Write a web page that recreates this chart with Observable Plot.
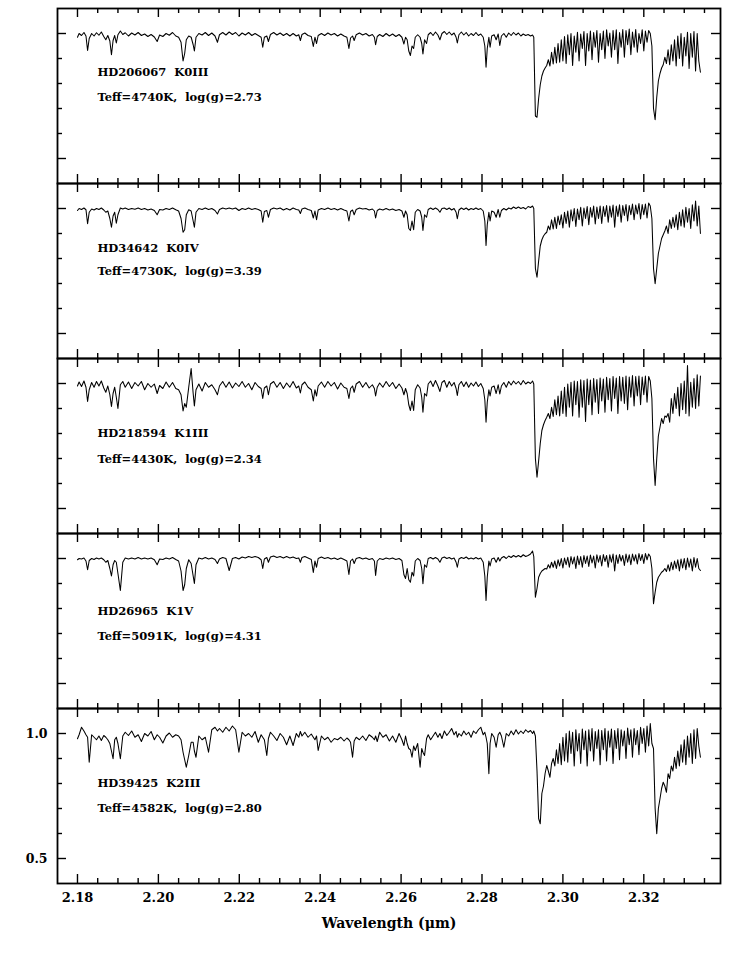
<!DOCTYPE html>
<html><head><meta charset="utf-8">
<script src="https://cdn.jsdelivr.net/npm/d3@7"></script>
<script src="https://cdn.jsdelivr.net/npm/@observablehq/plot@0.6"></script>
<style>body{margin:0;background:#fff}</style>
</head><body><div id="chart"></div>
<script>
// ---- stars ----
const starIds = ["HD206067","HD34642","HD218594","HD26965","HD39425"];
const starTypes = ["K0III","K0IV","K1III","K1V","K2III"];
const starTeff = ["4740","4730","4430","5091","4582"];
const starLogg = ["2.73","3.39","2.34","4.31","2.80"];

// ---- shared sampling of the atomic-line region (µm) ----
const blueWave = [
2.1800,2.1804,2.1810,2.1816,2.1821,2.1825,2.1829,2.1835,2.1841,2.1847,
2.1853,2.1859,2.1865,2.1870,2.1875,2.1880,2.1884,2.1888,2.1892,2.1896,
2.1900,2.1906,2.1912,2.1918,2.1926,2.1934,2.1942,2.1950,2.1958,2.1966,
2.1974,2.1982,2.1990,2.1997,2.2003,2.2011,2.2019,2.2027,2.2035,2.2043,
2.2050,2.2056,2.2061,2.2065,2.2069,2.2075,2.2081,2.2086,2.2089,2.2093,
2.2100,2.2108,2.2116,2.2124,2.2132,2.2140,2.2146,2.2151,2.2159,2.2167,
2.2175,2.2183,2.2191,2.2199,2.2207,2.2215,2.2223,2.2231,2.2239,2.2247,
2.2254,2.2258,2.2262,2.2268,2.2272,2.2277,2.2285,2.2293,2.2301,2.2309,
2.2317,2.2325,2.2333,2.2341,2.2347,2.2351,2.2355,2.2362,2.2370,2.2378,
2.2383,2.2387,2.2391,2.2395,2.2403,2.2411,2.2419,2.2427,2.2435,2.2443,
2.2451,2.2459,2.2466,2.2471,2.2475,2.2480,2.2484,2.2489,2.2497,2.2505,
2.2513,2.2521,2.2529,2.2534,2.2537,2.2541,2.2547,2.2555,2.2563,2.2571,
2.2579,2.2587,2.2595,2.2602,2.2607,2.2611,2.2615,2.2619,2.2623,2.2627,
2.2631,2.2635,2.2641,2.2647,2.2651,2.2654,2.2658,2.2663,2.2667,2.2673,
2.2679,2.2685,2.2691,2.2696,2.2701,2.2707,2.2713,2.2719,2.2725,2.2731,
2.2736,2.2739,2.2743,2.2749,2.2755,2.2761,2.2767,2.2773,2.2779,2.2785,
2.2791,2.2797,2.2803,2.2807,2.2810,2.2813,2.2817,2.2820,2.2824,2.2830,
2.2835,2.2840,2.2844,2.2848,2.2854,2.2860,2.2866,2.2872,2.2878,2.2884,
2.2890,2.2896,2.2902,2.2908,2.2914,2.2920,2.2925,2.2928];

const blueFlux_HD206067 = [
0.985,1.000,0.992,1.004,0.990,0.932,0.980,1.000,0.990,1.003,
0.993,1.006,0.988,0.975,0.992,0.970,0.915,0.972,0.992,0.962,
0.995,1.010,0.996,1.003,0.990,1.002,0.994,1.004,0.992,0.998,
0.988,0.996,0.986,0.968,0.994,0.988,1.000,0.993,1.004,0.990,
0.985,0.965,0.890,0.920,0.975,0.990,0.985,0.955,0.930,0.985,
1.000,0.994,1.004,0.992,1.002,0.990,0.965,0.995,1.004,0.994,
1.006,0.996,1.004,0.990,1.002,0.994,1.004,0.992,1.000,0.992,
0.985,0.945,0.985,0.990,0.968,0.996,1.004,0.994,1.002,0.992,
1.000,0.990,1.000,0.990,0.995,0.972,0.996,1.002,0.992,0.988,
0.948,0.985,0.960,0.992,1.000,0.992,1.002,0.994,1.000,0.990,
0.998,0.990,0.985,0.940,0.982,0.990,0.972,0.995,1.002,0.994,
1.000,0.990,0.996,0.985,0.955,0.988,0.996,0.988,1.000,0.990,
0.998,0.988,0.996,0.985,0.958,0.985,0.975,0.930,0.912,0.950,
0.940,0.985,0.995,0.985,0.960,0.918,0.975,0.960,0.995,1.004,
0.992,1.006,0.994,0.975,1.000,1.008,0.996,1.006,0.994,1.002,
0.985,0.962,0.995,1.006,0.994,1.004,0.990,1.000,0.992,1.004,
0.992,0.998,0.985,0.950,0.865,0.940,0.985,0.945,0.990,0.995,
0.975,0.998,0.952,0.990,1.000,0.985,1.002,0.992,1.004,0.994,
1.002,0.990,0.998,0.992,0.996,0.990,0.994,0.985];

const blueFlux_HD34642 = [
0.992,1.000,0.996,1.002,0.995,0.939,0.985,0.998,0.994,1.000,
0.996,1.002,0.994,0.985,0.990,0.960,0.925,0.970,0.985,0.941,
0.975,1.002,0.998,1.002,0.996,1.000,0.997,1.002,0.996,1.000,
0.994,0.998,0.992,0.975,0.996,0.994,1.000,0.996,1.002,0.995,
0.990,0.960,0.905,0.915,0.975,0.995,0.990,0.950,0.925,0.985,
1.000,0.996,1.002,0.996,1.000,0.992,0.978,0.996,1.002,0.998,
1.002,0.998,1.002,0.992,1.000,0.996,1.002,0.996,1.000,0.996,
0.990,0.945,0.988,0.992,0.965,0.996,1.002,0.998,1.002,0.994,
1.000,0.994,1.002,0.996,0.994,0.980,0.998,1.002,0.996,0.992,
0.962,0.990,0.955,0.994,1.000,0.996,1.002,0.996,1.000,0.994,
1.000,0.994,0.990,0.950,0.988,0.994,0.975,0.996,1.002,0.998,
1.000,0.994,0.998,0.990,0.962,0.992,0.998,0.994,1.000,0.994,
0.998,0.992,0.996,0.990,0.965,0.990,0.975,0.920,0.912,0.950,
0.915,0.985,0.996,0.990,0.965,0.912,0.975,0.965,0.996,1.002,
0.996,1.002,0.996,0.985,1.000,1.002,0.996,1.002,0.994,1.000,
0.985,0.959,0.994,1.002,0.996,1.002,0.994,1.000,0.996,1.002,
0.996,1.000,0.990,0.950,0.852,0.935,0.985,0.950,0.990,0.985,
0.965,0.996,0.965,0.992,1.000,0.994,1.002,0.998,1.006,1.000,
1.006,1.000,1.004,0.998,1.008,1.004,1.010,1.000];

const blueFlux_HD218594 = [
0.990,1.006,0.988,1.010,0.985,0.928,0.975,1.004,0.985,1.008,
0.990,1.010,0.982,0.965,0.990,0.955,0.908,0.960,0.985,0.945,
0.900,0.995,1.008,0.985,1.006,0.980,1.004,0.990,1.008,0.975,
1.000,0.985,0.998,0.960,0.992,0.980,1.006,0.985,1.004,0.980,
0.975,0.955,0.890,0.920,0.905,0.985,1.060,0.960,0.910,0.975,
0.998,0.970,1.004,0.985,0.995,0.975,0.955,0.990,1.008,0.985,
1.006,0.982,1.002,0.988,1.008,0.985,1.000,0.975,1.004,0.988,
0.980,0.940,0.982,0.990,0.955,0.998,1.008,0.985,1.004,0.980,
1.002,0.985,1.008,0.982,0.990,0.962,0.995,1.006,0.985,0.975,
0.930,0.975,0.950,0.990,1.006,0.985,1.008,0.990,1.004,0.978,
1.002,0.985,0.980,0.940,0.980,0.990,0.965,0.998,1.008,0.985,
1.004,0.982,0.995,0.980,0.950,0.985,1.002,0.985,1.008,0.988,
1.004,0.980,0.998,0.982,0.955,0.980,0.960,0.915,0.892,0.930,
0.892,0.975,0.995,0.982,0.945,0.885,0.960,0.950,0.998,1.010,
0.988,1.012,0.990,0.968,1.004,1.012,0.985,1.008,0.990,1.004,
0.980,0.952,0.995,1.008,0.988,1.006,0.985,1.002,0.990,1.006,
0.988,1.000,0.980,0.935,0.845,0.925,0.975,0.950,0.985,0.990,
0.960,0.995,0.958,0.990,1.004,0.985,1.008,0.994,1.010,0.998,
1.008,0.995,1.012,0.998,1.006,1.000,1.010,0.998];

const blueFlux_HD26965 = [
0.995,1.000,0.998,1.002,0.990,0.955,0.992,1.000,0.996,1.002,
0.998,1.002,0.995,0.985,0.992,0.960,0.930,0.975,0.992,0.985,
0.940,0.872,0.985,1.002,0.998,1.002,0.998,1.004,0.998,1.002,
0.998,1.002,0.995,0.975,0.998,0.996,1.002,0.998,1.004,0.996,
0.990,0.950,0.872,0.895,0.960,0.995,0.980,0.930,0.900,0.975,
1.002,0.998,1.004,0.998,1.002,0.996,0.980,0.998,1.004,1.000,
0.952,1.000,1.004,0.998,1.006,1.002,1.008,1.004,1.008,1.004,
0.995,0.960,0.998,1.004,0.985,1.006,1.010,1.004,1.008,1.002,
1.008,1.002,1.006,1.000,1.002,0.985,1.004,1.008,1.002,0.996,
0.944,0.990,0.965,1.000,1.006,1.000,1.004,0.998,1.002,0.996,
1.002,0.996,0.990,0.936,0.990,0.998,0.980,1.000,1.004,0.998,
1.002,0.996,1.000,0.990,0.932,0.990,1.000,0.996,1.002,0.998,
1.002,0.996,1.000,0.992,0.935,0.920,0.960,0.915,0.905,0.945,
0.930,0.990,1.000,0.992,0.960,0.899,0.975,0.965,1.000,1.004,
0.998,1.004,0.998,0.985,1.002,1.006,1.000,1.004,0.998,1.002,
0.985,0.965,0.998,1.004,1.000,1.006,0.998,1.002,0.998,1.004,
0.998,1.002,0.985,0.930,0.832,0.925,0.990,0.970,0.998,1.002,
0.985,1.004,0.990,1.002,1.008,1.000,1.010,1.004,1.012,1.006,
1.012,1.006,1.015,1.008,1.012,1.018,1.030,1.008];

const blueFlux_HD39425 = [
0.979,0.995,1.025,1.010,0.995,0.985,0.885,0.995,0.985,0.975,
0.990,0.972,0.992,0.985,0.975,0.960,0.930,0.899,0.975,0.985,
0.960,0.899,0.990,1.005,0.992,1.010,0.985,0.995,0.968,1.000,
0.990,1.008,0.975,0.995,0.985,0.962,0.990,1.002,0.985,0.995,
0.990,0.975,0.925,0.895,0.865,0.912,0.965,0.965,0.930,0.905,
0.990,0.975,0.985,0.925,1.015,1.025,1.010,1.020,1.005,1.025,
1.010,1.030,1.015,0.925,1.005,0.990,1.000,0.985,1.008,0.965,
0.995,0.985,0.975,0.912,0.980,1.005,0.990,0.972,1.000,0.985,
0.955,0.990,0.952,1.000,0.985,1.008,0.990,1.005,0.985,0.998,
0.985,0.975,0.990,0.932,0.990,0.975,0.985,0.965,0.980,0.975,
0.985,0.970,0.982,0.975,0.965,0.905,0.970,0.985,0.975,0.990,
0.972,0.995,0.985,0.975,0.990,0.968,1.005,0.985,0.995,0.970,
0.990,0.965,1.000,0.975,0.952,0.990,0.960,0.940,0.935,0.905,
0.950,0.932,0.960,0.865,0.940,0.925,0.912,0.980,0.995,0.975,
0.990,1.005,0.985,1.000,0.980,1.010,0.992,1.005,1.020,0.995,
1.008,0.985,1.000,0.990,1.010,0.995,1.005,0.985,1.010,1.000,
1.015,1.025,0.995,1.005,0.985,0.960,0.839,0.960,1.000,0.985,
0.945,0.995,1.005,0.990,0.945,1.000,0.990,1.010,0.995,1.015,
0.998,1.010,1.000,1.015,1.005,1.012,1.000,1.010];

// ---- CO band region: regular sampling from 2.2932 µm in 0.0004 µm steps ----
const coStart = 2.2932;
const coStep = 0.0004;
const coFlux_HD206067 = [
0.670,0.665,0.740,0.795,0.830,0.850,0.862,0.872,0.895,0.870,
0.925,0.878,0.945,0.882,0.960,0.885,0.975,0.890,0.988,0.880,
0.995,0.915,1.000,0.872,0.990,0.925,1.005,0.890,0.998,0.940,
1.008,0.872,1.000,0.930,1.010,0.895,1.004,0.945,1.012,0.885,
1.000,0.935,1.010,0.900,1.015,0.950,1.002,0.905,1.012,0.935,
1.015,0.880,1.004,0.945,1.016,0.905,1.012,0.955,1.018,0.915,
1.006,0.945,1.016,0.925,1.000,0.960,1.015,0.930,1.010,0.965,
1.012,1.000,0.950,0.700,0.655,0.745,0.810,0.840,0.862,0.875,
0.905,0.880,0.935,0.875,0.955,0.890,0.975,0.870,0.990,0.900,
1.000,0.870,0.985,0.910,1.005,0.860,1.000,0.905,1.008,0.850,
1.000,0.890,0.845];
const coFlux_HD34642 = [
0.760,0.725,0.790,0.850,0.875,0.890,0.899,0.905,0.930,0.915,
0.955,0.918,0.965,0.920,0.970,0.935,0.975,0.922,0.985,0.940,
0.990,0.925,0.995,0.950,1.000,0.928,0.998,0.955,1.005,0.930,
1.002,0.960,1.008,0.935,1.004,0.965,1.010,0.938,1.006,0.960,
1.010,0.940,1.008,0.968,1.012,0.945,1.010,0.965,1.014,0.925,
1.010,0.968,1.015,0.945,1.012,0.972,1.016,0.950,1.012,0.975,
1.018,0.955,1.014,0.978,1.020,0.958,1.016,0.975,1.018,0.962,
1.022,1.010,0.960,0.760,0.699,0.760,0.820,0.850,0.880,0.895,
0.910,0.930,0.900,0.955,0.920,0.965,0.925,0.975,0.915,0.985,
0.930,0.995,0.925,1.005,0.945,1.000,0.920,1.015,0.950,1.030,
0.930,1.010,0.900];
const coFlux_HD218594 = [
0.700,0.625,0.690,0.760,0.812,0.835,0.852,0.865,0.880,0.860,
0.905,0.868,0.935,0.875,0.950,0.870,0.970,0.880,0.985,0.868,
0.998,0.905,1.005,0.870,1.010,0.915,1.008,0.865,1.015,0.905,
1.012,0.848,1.018,0.915,1.014,0.875,1.020,0.925,1.016,0.880,
1.022,0.930,1.018,0.885,1.025,0.935,1.020,0.890,1.028,0.940,
1.022,0.880,1.028,0.930,1.025,0.920,1.030,0.895,1.026,0.945,
1.032,0.910,1.028,0.950,1.030,0.915,1.026,0.955,1.030,0.925,
1.028,1.010,0.940,0.700,0.592,0.700,0.790,0.825,0.860,0.840,
0.870,0.865,0.880,0.845,0.940,0.880,0.960,0.900,0.985,0.870,
1.000,0.895,1.010,0.880,1.072,0.870,1.005,0.905,1.020,0.900,
1.035,0.910,1.030];
const coFlux_HD26965 = [
0.845,0.880,0.925,0.940,0.950,0.955,0.960,0.958,0.975,0.962,
0.985,0.965,0.990,0.960,0.995,0.970,1.000,0.962,1.002,0.975,
1.005,0.965,1.008,0.978,1.006,0.960,1.010,0.975,1.008,0.965,
1.012,0.980,1.010,0.968,1.014,0.982,1.010,0.962,1.015,0.985,
1.012,0.970,1.016,0.988,1.012,0.965,1.015,0.985,1.018,0.950,
1.014,0.980,1.016,0.990,1.012,0.972,1.018,0.985,1.015,0.975,
1.018,0.990,1.015,0.978,1.020,0.992,1.016,0.980,1.020,0.995,
1.018,1.008,0.960,0.819,0.865,0.905,0.925,0.935,0.945,0.950,
0.960,0.948,0.975,0.950,0.985,0.955,0.990,0.960,0.995,0.950,
0.998,0.962,1.000,0.955,1.002,0.965,0.998,0.950,1.004,0.965,
1.000,0.960,0.952];
const coFlux_HD39425 = [
0.990,0.850,0.660,0.639,0.760,0.790,0.840,0.872,0.850,0.825,
0.880,0.900,0.870,0.935,0.880,0.960,0.875,0.985,0.890,1.000,
0.885,1.010,0.920,1.005,0.870,1.015,0.930,1.000,0.880,1.018,
0.935,1.010,0.870,1.015,0.930,1.020,0.890,1.008,0.940,1.015,
0.875,1.012,0.935,1.020,0.890,1.010,0.945,1.018,0.880,1.012,
0.940,1.020,0.895,1.015,0.950,1.010,0.900,1.022,0.955,1.015,
0.905,1.020,0.955,1.012,0.915,1.025,0.960,1.020,0.925,1.030,
0.950,1.040,0.960,0.940,0.700,0.599,0.700,0.739,0.780,0.805,
0.790,0.765,0.839,0.820,0.870,0.850,0.905,0.860,0.930,0.870,
0.955,0.885,0.975,0.875,0.990,0.905,1.000,0.880,1.015,0.900,
1.020,0.950,0.905];

// ---- ticks / tick labels ----
const xMajorTicks = [2.18,2.20,2.22,2.24,2.26,2.28,2.30,2.32];
const xMinorTicks = [2.185,2.19,2.195,2.205,2.21,2.215,2.225,2.23,2.235,2.245,2.25,2.255,
                     2.265,2.27,2.275,2.285,2.29,2.295,2.305,2.31,2.315,2.325,2.33,2.335];
const yMajorTicks = [0.5,1.0];
const yMinorTicks = [0.6,0.7,0.8,0.9];
const yTickLabels = [1.0,0.5];
const xAxisTitle = "Wavelength (\u03bcm)";

// ---- layout (label rows, in flux units of each panel) ----
const labelNameY  = [0.844,0.840,0.800,0.788,0.800];
const labelParamY = [0.744,0.748,0.696,0.688,0.700];

// ---- build tables ----
const blueFlux = [blueFlux_HD206067, blueFlux_HD34642, blueFlux_HD218594, blueFlux_HD26965, blueFlux_HD39425];
const coFlux = [coFlux_HD206067, coFlux_HD34642, coFlux_HD218594, coFlux_HD26965, coFlux_HD39425];
const rows = [];
starIds.forEach((id, k) => {
  if (blueFlux[k].length !== blueWave.length) throw new Error("blue length " + id + " " + blueFlux[k].length);
  if (coFlux[k].length !== 103) throw new Error("co length " + id + " " + coFlux[k].length);
  blueWave.forEach((w, i) => rows.push({star: id, wave: w, flux: blueFlux[k][i]}));
  coFlux[k].forEach((f, i) => rows.push({star: id, wave: coStart + coStep * i, flux: f}));
});
const labels = [];
starIds.forEach((id, k) => {
  labels.push({star: id, y: labelNameY[k], text: id + " \u00a0" + starTypes[k]});
  labels.push({star: id, y: labelParamY[k], text: "Teff=" + starTeff[k] + "K, \u00a0log(g)=" + starLogg[k]});
});
const lastStar = starIds[starIds.length - 1];

const W = 733, H = 972, mt = 8, mb = 89, ml = 57, mr = 13;
const panelH = (H - mt - mb) / starIds.length;
const plotW = W - ml - mr;
const tMaj = 9, tMin = 5;
const tickStyle = {stroke: "black", strokeWidth: 1.4};

const chart = Plot.plot({
  width: W, height: H,
  marginTop: mt, marginBottom: mb, marginLeft: ml, marginRight: mr,
  style: {fontFamily: "'DejaVu Serif', serif", fontWeight: "bold", background: "white", color: "black"},
  x: {domain: [2.17506, 2.33896], axis: null},
  y: {domain: [0.4, 1.1], axis: null},
  fy: {domain: starIds, padding: 0, axis: null, label: null},
  marks: [
    Plot.line(rows, {x: "wave", y: "flux", fy: "star", stroke: "black", strokeWidth: 1.05}),
    Plot.tickX(xMajorTicks, {x: d => d, insetBottom: panelH - tMaj, ...tickStyle}),
    Plot.tickX(xMajorTicks, {x: d => d, insetTop: panelH - tMaj, ...tickStyle}),
    Plot.tickX(xMinorTicks, {x: d => d, insetBottom: panelH - tMin, ...tickStyle}),
    Plot.tickX(xMinorTicks, {x: d => d, insetTop: panelH - tMin, ...tickStyle}),
    Plot.tickY(yMajorTicks, {y: d => d, insetRight: plotW - tMaj, ...tickStyle}),
    Plot.tickY(yMajorTicks, {y: d => d, insetLeft: plotW - tMaj, ...tickStyle}),
    Plot.tickY(yMinorTicks, {y: d => d, insetRight: plotW - tMin, ...tickStyle}),
    Plot.tickY(yMinorTicks, {y: d => d, insetLeft: plotW - tMin, ...tickStyle}),
    Plot.frame({stroke: "black", strokeWidth: 1.8}),
    Plot.text(labels, {fy: "star", y: "y", text: "text", frameAnchor: "left", dx: 40,
      textAnchor: "start", fontSize: 11.5, fill: "black"}),
    Plot.text(yTickLabels, {fy: () => lastStar, y: d => d, text: d => d.toFixed(1),
      frameAnchor: "left", dx: -10, textAnchor: "end", fontSize: 12.5, fill: "black"}),
    Plot.text(xMajorTicks, {fy: () => lastStar, x: d => d, text: d => d.toFixed(2),
      frameAnchor: "bottom", dy: 18, fontSize: 13, fill: "black"}),
    Plot.text([xAxisTitle], {fy: () => lastStar, text: d => d,
      frameAnchor: "bottom", dy: 44, fontSize: 14, fill: "black"})
  ]
});
document.getElementById("chart").appendChild(chart);
</script>
</body></html>
